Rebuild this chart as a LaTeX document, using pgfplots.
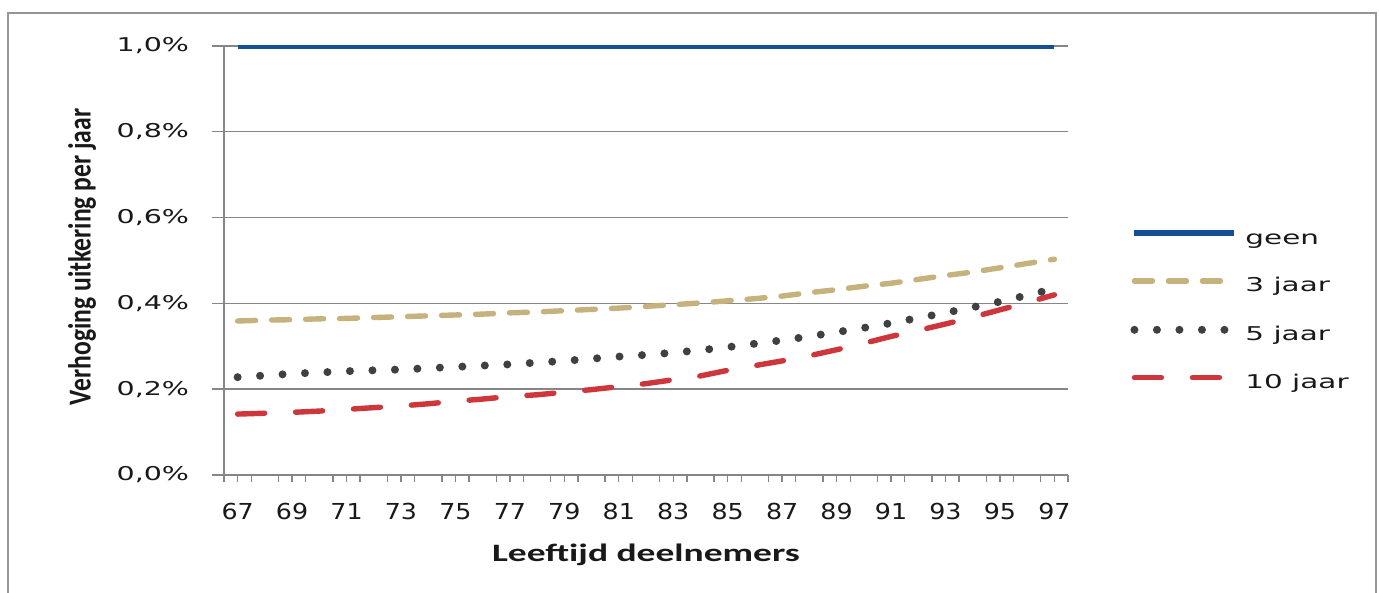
\documentclass[border=0pt]{standalone}
\usepackage{fontspec}
\usepackage{pgfplots}
\usepackage{pgfplotstable}
\pgfplotsset{compat=1.18}
\setmainfont{DejaVu Sans}
\newfontfamily\ytickfont[FakeStretch=1.5]{DejaVu Sans}
\newfontfamily\xtickfont[FakeStretch=1.15]{DejaVu Sans}
\newfontfamily\legfont[FakeStretch=1.55]{DejaVu Sans}
\newfontfamily\xlabfont[FakeStretch=1.5]{Carlito}
\newfontfamily\ylabfont[FakeStretch=0.8]{Carlito}
\definecolor{cblue}{RGB}{21,80,150}
\definecolor{ctan}{RGB}{198,178,124}
\definecolor{cgray}{RGB}{64,64,64}
\definecolor{cred}{RGB}{205,55,60}
\definecolor{gridgray}{RGB}{134,134,134}
\definecolor{framegray}{RGB}{150,150,150}
\definecolor{txt}{RGB}{25,25,25}
\pgfplotstableread{
age geen drie vijf tien
67 1 0.359 0.228 0.142
68 1 0.361 0.232 0.144
69 1 0.362 0.236 0.146
70 1 0.364 0.239 0.149
71 1 0.365 0.242 0.153
72 1 0.367 0.244 0.157
73 1 0.369 0.246 0.161
74 1 0.371 0.249 0.166
75 1 0.373 0.252 0.172
76 1 0.375 0.255 0.177
77 1 0.378 0.258 0.183
78 1 0.380 0.262 0.187
79 1 0.383 0.266 0.193
80 1 0.386 0.271 0.199
81 1 0.389 0.276 0.206
82 1 0.393 0.280 0.213
83 1 0.397 0.285 0.222
84 1 0.401 0.291 0.231
85 1 0.406 0.298 0.244
86 1 0.411 0.306 0.255
87 1 0.417 0.314 0.266
88 1 0.425 0.323 0.278
89 1 0.432 0.333 0.292
90 1 0.440 0.343 0.307
91 1 0.447 0.354 0.323
92 1 0.456 0.366 0.337
93 1 0.465 0.378 0.352
94 1 0.473 0.391 0.368
95 1 0.483 0.404 0.385
96 1 0.493 0.419 0.402
97 1 0.503 0.434 0.420
}\datatable
\begin{document}
\begin{tikzpicture}
\useasboundingbox (0,0) rectangle (689.5pt,296.5pt);
\fill[white] (0,0) rectangle (689.5pt,296.5pt);
\draw[framegray, line width=1pt] (4pt,0pt) -- (4pt,290pt) -- (688pt,290pt) -- (688pt,0pt);
\begin{axis}[
  at={(112pt,59pt)}, anchor=south west,
  scale only axis,
  width=422pt, height=214.5pt,
  xmin=66.5, xmax=97.5, ymin=0, ymax=1,
  axis lines=left,
  axis line style={draw=gridgray, line width=0.7pt, -},
  tick align=outside,
  tick style={draw=gridgray, line width=0.7pt},
  xtick={66.5,67.5,...,97.5},
  xticklabels={},
  xtick style={/pgfplots/major tick length=3.5pt},
  extra x ticks={67,69,71,73,75,77,79,81,83,85,87,89,91,93,95,97},
  extra x tick labels={67,69,71,73,75,77,79,81,83,85,87,89,91,93,95,97},
  extra x tick style={/pgfplots/major tick length=0pt, xticklabel style={font=\xtickfont\fontsize{11}{12}\selectfont, text=txt, inner sep=0pt, anchor=base, yshift=-22.5pt}},
  ytick={0,0.2,0.4,0.6,0.8,1},
  yticklabels={{0,0\%},{0,2\%},{0,4\%},{0,6\%},{0,8\%},{1,0\%}},
  ytick style={/pgfplots/major tick length=6pt},
  yticklabel style={font=\ytickfont\fontsize{9.5}{10}\selectfont, text=txt, inner sep=0pt, anchor=east, xshift=-13pt},
  ymajorgrids,
  grid style={draw=gridgray, line width=0.7pt},
  xlabel={\xlabfont\bfseries Leeftijd deelnemers},
  xlabel style={at={(axis description cs:0.5,0)}, anchor=base, yshift=-43pt, font=\fontsize{12.5}{13}\selectfont, text=txt, inner sep=0pt},
  ylabel={\ylabfont\bfseries Verhoging uitkering per jaar},
  ylabel style={at={(axis description cs:-0.1682,0.5082)}, anchor=center, font=\fontsize{16}{17}\selectfont, text=txt, inner sep=0pt},
  legend style={draw=none, fill=none, at={(axis description cs:1.0735,0.572)}, anchor=north west, inner sep=0pt, row sep=14.95pt, column sep=3.5pt, nodes={inner sep=0pt, text height=7pt, text depth=2pt, font=\legfont\fontsize{9.5}{10}\selectfont, text=txt}},
  legend cell align=left,
  legend image code/.code={\draw[#1] (0pt,3pt) -- (50pt,3pt);},
]
\addplot[cblue, line width=3pt] table[x=age, y=geen] {\datatable};
\addlegendentry{geen}
\addplot[ctan, line width=2.7pt, line cap=round, dash pattern=on 9pt off 8pt] table[x=age, y=drie] {\datatable};
\addlegendentry{3 jaar}
\addplot[cgray, line width=4pt, line cap=round, dash pattern=on 0pt off 11.25pt] table[x=age, y=vijf] {\datatable};
\addlegendentry{5 jaar}
\addplot[cred, line width=2.7pt, line cap=round, dash pattern=on 13.5pt off 15.5pt] table[x=age, y=tien] {\datatable};
\addlegendentry{10 jaar}
\end{axis}
\end{tikzpicture}
\end{document}
